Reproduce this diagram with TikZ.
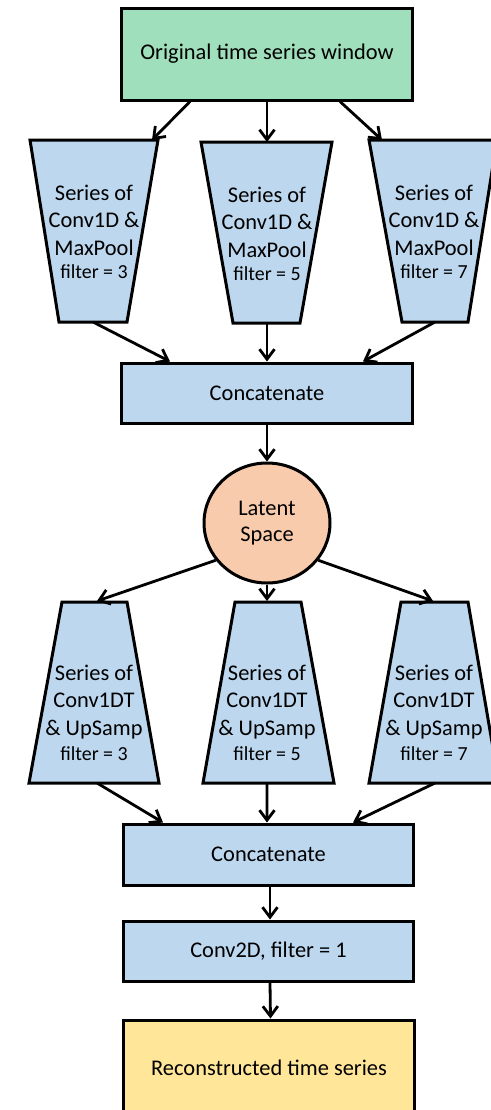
\documentclass[tikz,border=0pt]{standalone}
\usepackage{fontspec}
\setmainfont{Carlito}
\usetikzlibrary{arrows.meta,shapes.geometric}
\definecolor{boxgreen}{HTML}{9FDFBB}
\definecolor{boxblue}{HTML}{BDD7EE}
\definecolor{latentfill}{HTML}{F8CBAD}
\definecolor{outyellow}{HTML}{FFE699}

\begin{document}
\begin{tikzpicture}[x=1bp,y=-1bp,
  rectbox/.style={draw, line width=3bp, fill=boxblue, inner sep=0pt,
    minimum width=290bp, minimum height=60bp, font=\fontsize{22.5}{27}\selectfont},
  trap/.style={draw, line width=3bp, fill=boxblue, line join=miter},
  lbl/.style={align=center, inner sep=0pt, font=\fontsize{22.5}{27.5}\selectfont},
  filt/.style={anchor=base, inner sep=0pt, font=\fontsize{20}{24}\selectfont},
  flow/.style={line width=2.8bp, -{Straight Barb[length=10bp,width=15bp]}}
]
\useasboundingbox (0,0) rectangle (491,1110);

% input window
\node[rectbox, fill=boxgreen, minimum height=92bp] (orig) at (267,54) {Original time series window};

% encoder branches (narrowing trapezoids)
\draw[trap] (30,140) -- (158,140) -- (127,322) -- (59,322) -- cycle;
\draw[trap] (201,142) -- (332,142) -- (300,323) -- (233,323) -- cycle;
\draw[trap] (369,140) -- (497,140) -- (468,322) -- (402,322) -- cycle;
\node[lbl] (enc1) at (94,220) {Series of\\Conv1D \&\\MaxPool};
\node[lbl] (enc2) at (267,222) {Series of\\Conv1D \&\\MaxPool};
\node[lbl] (enc3) at (434,220) {Series of\\Conv1D \&\\MaxPool};
\node[filt] (enc1f) at (94,278) {filter = 3};
\node[filt] (enc2f) at (267,280) {filter = 5};
\node[filt] (enc3f) at (434,278) {filter = 7};
\coordinate (e1in) at (152,140);
\coordinate (e2in) at (267,142);
\coordinate (e3in) at (382,140);
\coordinate (e1out) at (93,322);
\coordinate (e2out) at (267,323);
\coordinate (e3out) at (435,322);

\node[rectbox] (cat1) at (267,393) {Concatenate};

% latent space
\node[draw, ellipse, line width=3bp, fill=latentfill, inner sep=0pt,
  minimum width=126bp, minimum height=120bp, align=center,
  font=\fontsize{22.5}{26}\selectfont] (latent) at (267,523) {Latent\\Space};

% decoder branches (widening trapezoids)
\draw[trap] (62,602) -- (127,602) -- (159,783) -- (29,783) -- cycle;
\draw[trap] (235,602) -- (301,602) -- (334,783) -- (203,783) -- cycle;
\draw[trap] (401,602) -- (468,602) -- (499,783) -- (369,783) -- cycle;
\node[lbl] (dec1) at (94,702) {Series of\\Conv1DT\\\& UpSamp};
\node[lbl] (dec2) at (267,702) {Series of\\Conv1DT\\\& UpSamp};
\node[lbl] (dec3) at (434,702) {Series of\\Conv1DT\\\& UpSamp};
\node[filt] (dec1f) at (94,760) {filter = 3};
\node[filt] (dec2f) at (267,760) {filter = 5};
\node[filt] (dec3f) at (434,760) {filter = 7};
\coordinate (d1in) at (97,601);
\coordinate (d2in) at (267,601);
\coordinate (d3in) at (433,601);
\coordinate (d1out) at (97,783);
\coordinate (d2out) at (267,783);
\coordinate (d3out) at (435,783);

\node[rectbox, minimum width=289bp, minimum height=61bp] (cat2) at (268.5,854.5) {Concatenate};
\node[rectbox, minimum width=289bp] (conv) at (268.5,951) {Conv2D, filter = 1};
\node[rectbox, fill=outyellow, minimum width=290bp, minimum height=96bp] (recon) at (269,1068) {Reconstructed time series};

% connectors
\draw[flow] ([xshift=-77bp]orig.south) -- (e1in);
\draw[flow] (orig.south) -- (e2in);
\draw[flow] ([xshift=73bp]orig.south) -- (e3in);
\draw[flow] (e1out) -- ([xshift=-97bp]cat1.north);
\draw[flow] (e2out) -- (cat1.north);
\draw[flow] (e3out) -- ([xshift=96bp]cat1.north);
\draw[flow] (cat1.south) -- (latent.north);
\draw[flow] (latent.216) -- (d1in);
\draw[flow] (latent.south) -- (d2in);
\draw[flow] (latent.324) -- (d3in);
\draw[flow] (d1out) -- ([xshift=-105.5bp]cat2.north);
\draw[flow] (d2out) -- ([xshift=-1.5bp]cat2.north);
\draw[flow] (d3out) -- ([xshift=84.5bp]cat2.north);
\draw[flow] ([xshift=1.5bp]cat2.south) -- ([xshift=1.5bp]conv.north);
\draw[flow] ([xshift=1.5bp]conv.south) -- ([xshift=1.5bp]recon.north);
\end{tikzpicture}
\end{document}
